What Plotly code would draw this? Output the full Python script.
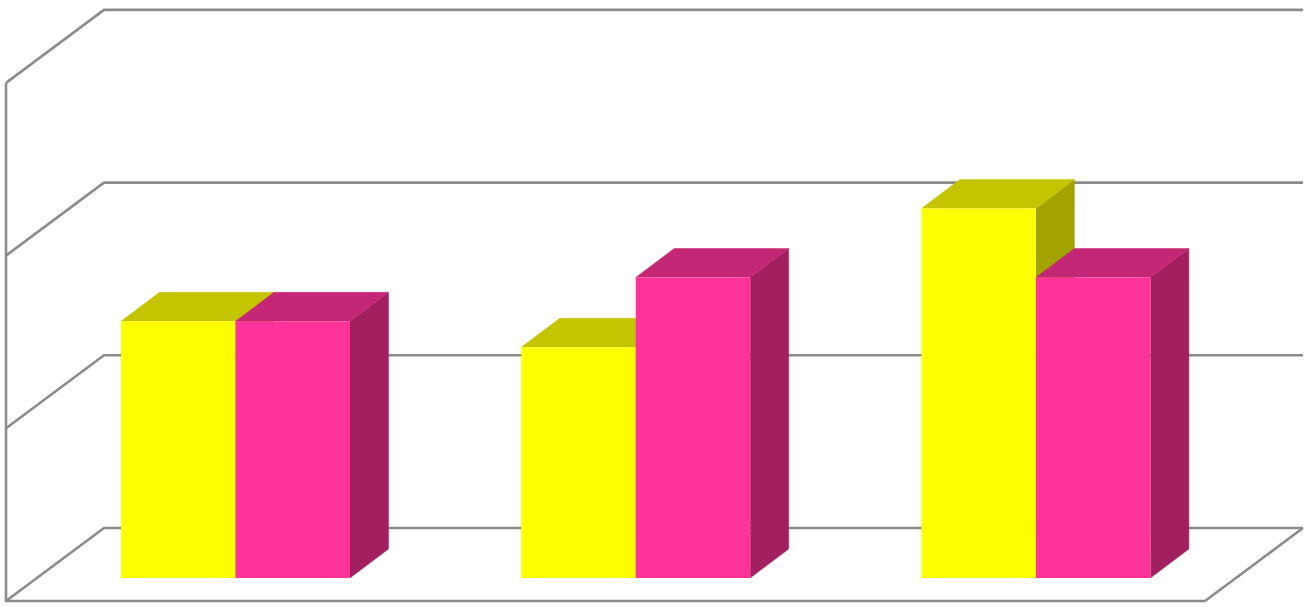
import plotly.graph_objects as go

groups = [0, 1, 2]
yellow_vals = [1.486, 1.336, 2.139]
pink_vals = [1.486, 1.740, 1.740]
grid_levels = [0, 1, 2, 3]

YELLOW = "#ffff00"
YELLOW_TOP = "#c4c400"
YELLOW_SIDE = "#a3a300"
PINK = "#ff3399"
PINK_TOP = "#c42775"
PINK_SIDE = "#a32060"
GREY = "#8c8c8c"

# px -> axis units, 400.2px per group, 172.7px per gridline
X_PX = 400.2
Y_PX = 172.7
x_range = [-235.5 / X_PX, (1312 - 235.5) / X_PX]
y_range = [(578 - 607) / Y_PX, 578 / Y_PX]

bar_w = 114.5 / X_PX
bar_dx = 38.5 / X_PX
bar_dy = 29 / Y_PX

wall_dx = 98 / X_PX
wall_dy = 73 / Y_PX
floor_back = 50 / Y_PX
left_back = (104 - 235.5) / X_PX
right_back = (1303 - 235.5) / X_PX

fig = go.Figure()


def line(xs, ys):
    fig.add_trace(go.Scatter(x=xs, y=ys, mode="lines", hoverinfo="skip",
                             line=dict(color=GREY, width=2.6)))


def face(xs, ys, color):
    fig.add_trace(go.Scatter(x=xs, y=ys, mode="lines", fill="toself", fillcolor=color,
                             line=dict(color=color, width=0.5), hoverinfo="skip"))


# wall and floor lines
for lev in grid_levels:
    yb = floor_back + lev
    line([left_back - wall_dx, left_back, right_back], [yb - wall_dy, yb, yb])
top = floor_back + grid_levels[-1] - wall_dy
bottom = floor_back - wall_dy
line([left_back - wall_dx, left_back - wall_dx, right_back - wall_dx, right_back],
     [top, bottom, bottom, floor_back])

# depth faces, yellow first so pink sits on it
for g, yv, pv in zip(groups, yellow_vals, pink_vals):
    x0, x1, x2 = g - bar_w, g, g + bar_w
    face([x1, x1 + bar_dx, x1 + bar_dx, x1], [0, bar_dy, yv + bar_dy, yv], YELLOW_SIDE)
    face([x0, x0 + bar_dx, x1 + bar_dx, x1], [yv, yv + bar_dy, yv + bar_dy, yv], YELLOW_TOP)
    face([x2, x2 + bar_dx, x2 + bar_dx, x2], [0, bar_dy, pv + bar_dy, pv], PINK_SIDE)
    face([x1, x1 + bar_dx, x2 + bar_dx, x2], [pv, pv + bar_dy, pv + bar_dy, pv], PINK_TOP)

# fronts on an overlaid axis pair so they cover the depth faces
fig.add_trace(go.Bar(x=groups, y=yellow_vals, marker=dict(color=YELLOW, line_width=0),
                     xaxis="x2", yaxis="y2", offsetgroup="a"))
fig.add_trace(go.Bar(x=groups, y=pink_vals, marker=dict(color=PINK, line_width=0),
                     xaxis="x2", yaxis="y2", offsetgroup="b"))

hidden = dict(visible=False, showgrid=False, zeroline=False)
fig.update_layout(
    width=1312, height=607,
    margin=dict(l=0, r=0, t=0, b=0),
    paper_bgcolor="white", plot_bgcolor="white",
    showlegend=False,
    barmode="group", bargap=1 - 2 * bar_w, bargroupgap=0,
    xaxis=dict(range=x_range, **hidden),
    yaxis=dict(range=y_range, **hidden),
    xaxis2=dict(range=x_range, overlaying="x", **hidden),
    yaxis2=dict(range=y_range, overlaying="y", **hidden),
)

fig.write_html("out.html", config={"displayModeBar": False},
               post_script="document.body.style.margin='0';document.body.style.overflow='hidden';")
